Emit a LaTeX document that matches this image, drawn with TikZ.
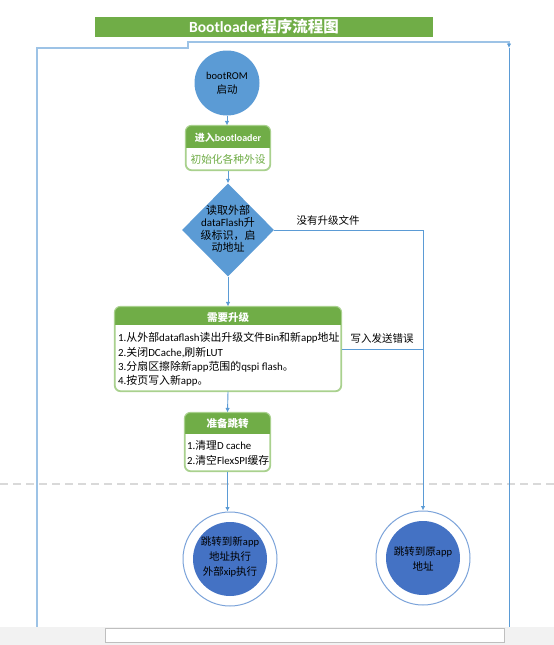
\documentclass[tikz,border=0pt]{standalone}
\usepackage{fontspec}
\setmainfont{Carlito}
\newfontfamily\cjkf{Noto Sans CJK SC}
\usetikzlibrary{arrows.meta,shapes.geometric}
\newXeTeXintercharclass\MyCJKcls
\makeatletter
\def\MySetCls#1#2{\count@=#1\relax
  \loop\XeTeXcharclass\count@=\MyCJKcls\relax
  \advance\count@ by 1\relax
  \ifnum\count@<#2\repeat}
\makeatother
\MySetCls{"3000}{"3040}
\MySetCls{"4E00}{"A000}
\MySetCls{"FF00}{"FFF0}
\XeTeXinterchartoks 0 \MyCJKcls = {\cjkf}
\XeTeXinterchartoks 4095 \MyCJKcls = {\cjkf}
\XeTeXinterchartoks \MyCJKcls 0 = {\rmfamily}
\XeTeXinterchartokenstate=1
\definecolor{grn}{HTML}{70AD47}
\definecolor{lgrn}{HTML}{A9D18E}
\definecolor{blueA}{HTML}{5B9BD5}
\definecolor{blueD}{HTML}{4472C4}
\definecolor{blueL}{HTML}{9DC3E6}
\definecolor{ringc}{HTML}{7BA3DA}
\definecolor{dashc}{HTML}{D9D9D9}
\definecolor{stripc}{HTML}{F2F2F2}
\definecolor{rectc}{HTML}{BFBFBF}
\tikzset{
  txt/.style={font=\fontsize{10.5}{13}\selectfont, inner sep=0pt},
  conn/.style={draw=blueA, line width=0.9pt},
  arr/.style={conn, -{Latex[length=4.5pt,width=4.5pt]}},
  hbox/.style={rounded corners=6pt, draw=lgrn, line width=1.1pt, fill=white, inner sep=0pt},
  htitle/.style={font=\bfseries\fontsize{10.5}{13}\selectfont, text=white, inner sep=0pt},
  outerring/.style={circle, draw=ringc, line width=1pt, fill=white, minimum size=94pt, inner sep=0pt},
  innerdisc/.style={circle, fill=blueD, minimum size=74pt, inner sep=0pt},
}
\begin{document}
\begin{tikzpicture}[x=1pt,y=-1pt]
\useasboundingbox (0,0) rectangle (554,645);
\fill[white] (0,0) rectangle (554,645);
% dashed separator
\draw[dashc, line width=1.5pt, dash pattern=on 8pt off 5pt] (0,484) -- (554,484);
% title
\node (title) [fill=grn, minimum width=338pt, minimum height=20pt, inner sep=0pt, text=white,
  font=\bfseries\fontsize{15.5}{17}\selectfont] at (264,27) {Bootloader程序流程图};
% outer loop
\coordinate (oa) at (37,627);
\coordinate (ob) at (37,48);
\coordinate (oc) at (188,48);
\coordinate (od) at (188,42);
\coordinate (oe) at (509,42);
\coordinate (of) at (509,48);
\coordinate (og) at (509,627);
\draw[conn] (of) -- (og);
\draw[draw=blueL, line width=1.2pt, arrows={-{Latex[length=4.5pt,width=4.5pt,color=blueA]}}] (oa) -- (ob) -- (oc) -- (od) -- (oe) -- (of);
% bootROM
\node (rom) [circle, fill=blueA, minimum size=65pt, inner sep=0pt, align=center, txt] at (227,83) {bootROM\\[1pt]启动};
% box 1
\node (b1) [hbox, minimum width=84pt, minimum height=44pt] at (228,148) {};
\begin{scope}
\clip[rounded corners=6pt] (b1.south west) rectangle (b1.north east);
\fill[grn] (b1.north west) rectangle ([yshift=-23pt]b1.north east);
\end{scope}
\draw[lgrn, line width=1.1pt, rounded corners=6pt] (b1.south west) rectangle (b1.north east);
\node (b1t) [htitle, font=\bfseries\fontsize{10}{12}\selectfont] at (228,137.5) {进入bootloader};
\node (b1b) [txt, text=grn, font=\fontsize{10.7}{13}\selectfont] at (228,159.5) {初始化各种外设};
% diamond
\node (d) [diamond, fill=blueA, minimum width=92pt, minimum height=93pt, inner sep=0pt] at (228,230) {};
\node (dt) [txt, align=center, font=\fontsize{11}{12.5}\selectfont] at (228,229) {读取外部\\dataFlash升\\级标识，启\\动地址};
% box 2
\node (b2) [hbox, minimum width=226pt, minimum height=84pt] at (228,349) {};
\begin{scope}
\clip[rounded corners=6pt] (b2.south west) rectangle (b2.north east);
\fill[grn] (b2.north west) rectangle ([yshift=-19pt]b2.north east);
\end{scope}
\draw[lgrn, line width=1.1pt, rounded corners=6pt] (b2.south west) rectangle (b2.north east);
\node (b2t) [htitle] at (228,317) {需要升级};
\node (b2b) [txt, align=left, anchor=west, font=\fontsize{10.9}{14.4}\selectfont] at (118,359.5)
  {1.从外部dataflash读出升级文件Bin和新app地址\\2.关闭DCache,刷新LUT\\3.分扇区擦除新app范围的qspi flash。\\4.按页写入新app。};
% box 3
\node (b3) [hbox, minimum width=85pt, minimum height=58pt] at (227.5,442) {};
\begin{scope}
\clip[rounded corners=6pt] (b3.south west) rectangle (b3.north east);
\fill[grn] (b3.north west) rectangle ([yshift=-22pt]b3.north east);
\end{scope}
\draw[lgrn, line width=1.1pt, rounded corners=6pt] (b3.south west) rectangle (b3.north east);
\node (b3t) [htitle] at (227.5,424) {准备跳转};
\node (b3b) [txt, align=left, anchor=west, font=\fontsize{10.8}{15}\selectfont] at (187,452.5)
  {1.清理D cache\\2.清空FlexSPI缓存};
% bottom circles
\node (cL) [outerring] at (230,559) {};
\node (cLi) [innerdisc] at (cL.center) {};
\node (cLt) [txt, align=center, font=\fontsize{10.5}{15}\selectfont] at (230,557) {跳转到新app\\地址执行\\外部xip执行};
\node (cR) [outerring] at (423,558) {};
\node (cRi) [innerdisc] at (cR.center) {};
\node (cRt) [txt, align=center, font=\fontsize{10.5}{14.5}\selectfont] at (423,559) {跳转到原app\\地址};
% connectors
\draw[arr] (rom.south) -- (rom.south |- b1.north);
\draw[arr] (b1.south) -- (d.north);
\draw[arr] (d.south) -- (b2.north);
\draw[arr] (b2.south) -- (b3.north);
\draw[arr] (b3.south) -- (b3.south |- cL.north);
\coordinate (nr) at (cR.north |- d.east);
\draw[arr] (d.east) -- (nr) -- (cR.north);
\draw[conn] (b2.east) -- (b2.east -| cR.north);
\node (l1) [txt] at (328,220) {没有升级文件};
\node (l2) [txt] at (382,339) {写入发送错误};
% bottom strip
\fill[stripc] (0,627) rectangle (554,645);
\draw[rectc, fill=white, line width=0.8pt] (105,628) rectangle (504,642);
\end{tikzpicture}
\end{document}
